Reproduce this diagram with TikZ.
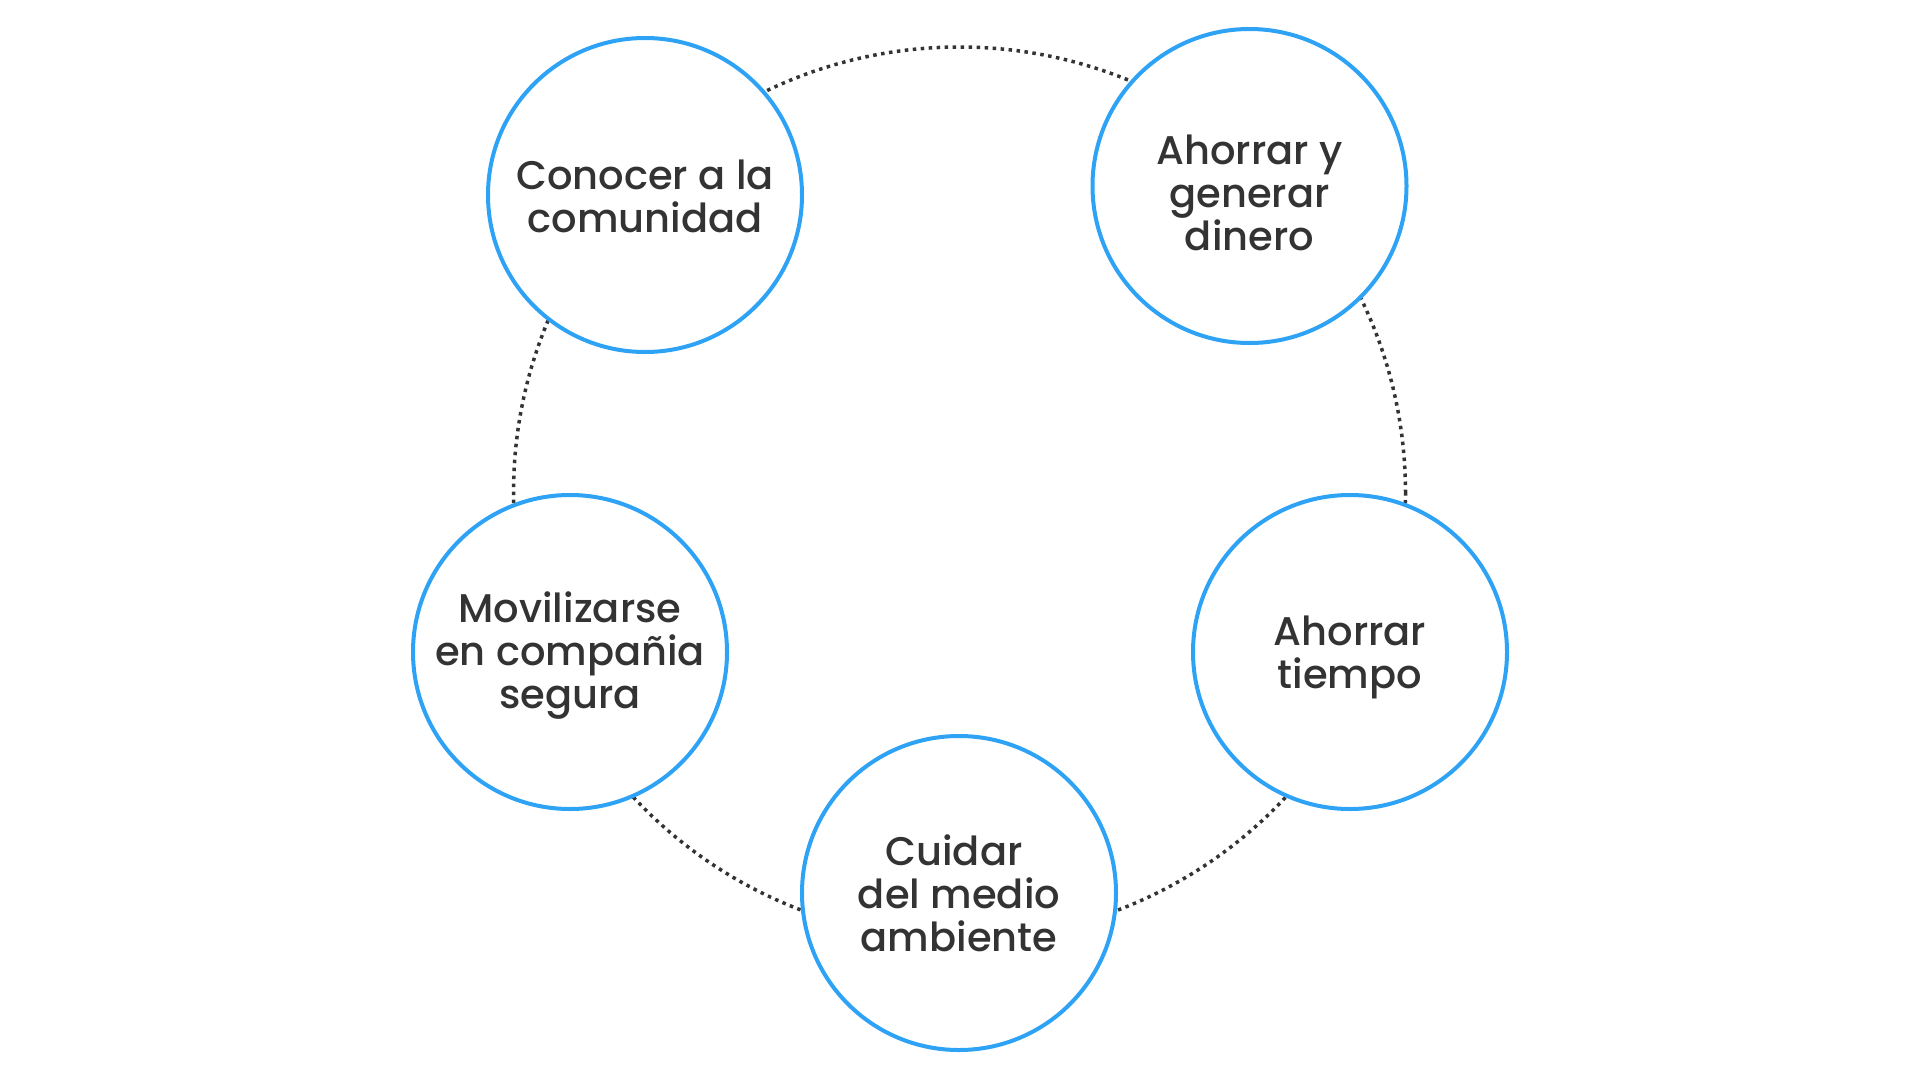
\documentclass[tikz,border=0pt]{standalone}
\usepackage{fontspec}
\setmainfont{Poppins}[UprightFont=* Medium]
\definecolor{ringblue}{RGB}{46,163,246}
\definecolor{txt}{RGB}{51,51,51}
\tikzset{
  item/.style={circle, draw=ringblue, line width=4pt, fill=white, minimum size=314pt, inner sep=0pt},
  itemtext/.style={text=txt, align=center, inner sep=0pt, font=\fontsize{40}{43}\selectfont},
  ring/.style={draw=txt, line width=3.5pt, dash pattern=on 3.5pt off 4.5pt}
}
\begin{document}
\begin{tikzpicture}[x=1pt,y=-1pt]
\useasboundingbox (0,0) rectangle (1920,1080);
\fill[white] (0,0) rectangle (1920,1080);
\coordinate (c) at (959.5,493);
\draw[ring] (c) circle[radius=446pt];
\node[item] (a) at (645,195) {};
\node[item] (b) at (1249.5,186) {};
\node[item] (t) at (1350,652) {};
\node[item] (m) at (959,893) {};
\node[item] (s) at (570,652) {};
\node[itemtext] (at) at ([yshift=-1.5pt]a.center) {Conocer a la\\comunidad};
\node[itemtext] (bt) at ([yshift=-7pt]b.center) {Ahorrar y\\generar\\dinero};
\node[itemtext] (tt) at ([yshift=-5pt]t.center) {Ahorrar\\tiempo};
\node[itemtext] (mt) at (m.center) {Cuidar\kern10pt\\del medio\\ambiente};
\node[itemtext] (st) at ([yshift=-4pt]s.center) {Movilizarse\\en compañia\\segura};
\end{tikzpicture}
\end{document}
